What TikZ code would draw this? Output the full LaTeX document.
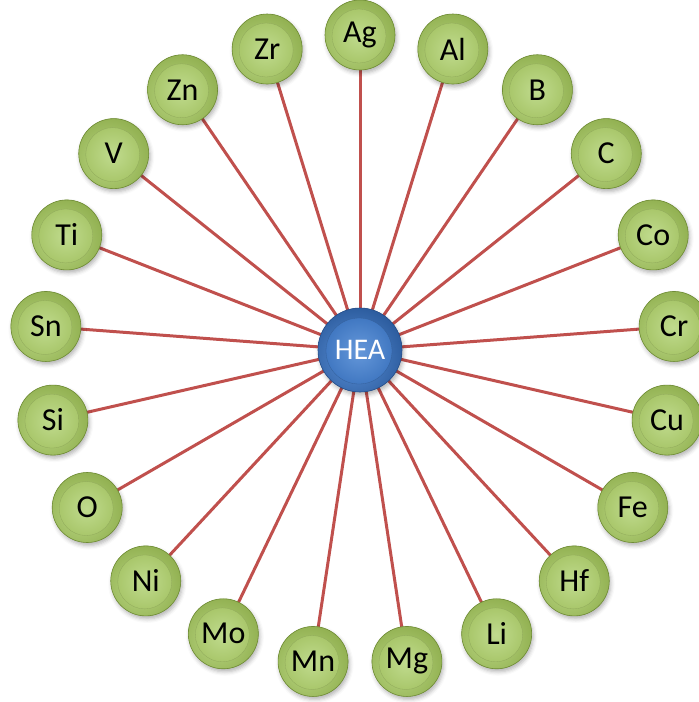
\documentclass[tikz,border=0pt]{standalone}
\usepackage{fontspec}
\setmainfont{Carlito}
\usetikzlibrary{shadows.blur,backgrounds}

% palette
\definecolor{spoke}{HTML}{C0504D}
\definecolor{grimlight}{HTML}{BAD783}
\definecolor{grimdark}{HTML}{8FAE4E}
\definecolor{gdisklight}{HTML}{C0DB8E}
\definecolor{gdisk}{HTML}{A9C76B}
\definecolor{gedge}{HTML}{6F8C36}
\definecolor{brimlight}{HTML}{5A8FD6}
\definecolor{brimdark}{HTML}{2C5C9E}
\definecolor{bdisklight}{HTML}{6598DA}
\definecolor{bdisk}{HTML}{4178C2}
\definecolor{bedge}{HTML}{264F8A}

\tikzset{
  elem/.style={circle, minimum size=70pt, inner sep=0pt,
    draw=gedge, line width=0.6pt, fill=grimdark,
    font=\fontsize{32}{34}\selectfont, text=black,
    blur shadow={shadow xshift=1.5pt, shadow yshift=-3pt,
                 shadow blur radius=4pt, shadow opacity=30},
    path picture={
      \shade[inner color=grimlight, outer color=grimdark]
        ([shift={(-6pt,-6pt)}]path picture bounding box.center) circle (46pt);
      \shade[inner color=gdisklight, outer color=gdisk, draw=gdisk!85!black, line width=0.3pt]
        ([shift={(-1pt,-1pt)}]path picture bounding box.center) circle (27pt);
    }},
  hubstyle/.style={circle, minimum size=84pt, inner sep=0pt,
    draw=bedge, line width=0.6pt, fill=brimdark,
    font=\fontsize{30}{32}\selectfont, text=white,
    blur shadow={shadow xshift=1.5pt, shadow yshift=-3pt,
                 shadow blur radius=4pt, shadow opacity=30},
    path picture={
      \shade[inner color=brimlight, outer color=brimdark]
        ([shift={(-6pt,-8pt)}]path picture bounding box.center) circle (52pt);
      \shade[inner color=bdisklight, outer color=bdisk, draw=bdisk!80!black, line width=0.3pt]
        ([shift={(-1pt,-1pt)}]path picture bounding box.center) circle (33pt);
    }},
  spokeline/.style={draw=spoke, line width=3pt}
}

\begin{document}
\begin{tikzpicture}[x=1pt, y=-1pt]
  \useasboundingbox (0,0) rectangle (699,702);
  \coordinate (ctr) at (360,350);
  \node[hubstyle] (hub) at (ctr) {HEA};
  % ring of elements, clockwise from the top
  \foreach \el [count=\k from 0] in {Ag,Al,B,C,Co,Cr,Cu,Fe,Hf,Li,Mg,Mn,Mo,Ni,O,Si,Sn,Ti,V,Zn,Zr} {
    \node[elem] (e-\el) at ([shift={(\k*360/21-90:315)}]ctr) {\el};
  }
  % spokes from the hub to every element, behind the discs
  \begin{scope}[on background layer]
    \foreach \el in {Ag,Al,B,C,Co,Cr,Cu,Fe,Hf,Li,Mg,Mn,Mo,Ni,O,Si,Sn,Ti,V,Zn,Zr} {
      \draw[spokeline] (hub.center) -- (e-\el.center);
    }
  \end{scope}
\end{tikzpicture}
\end{document}
